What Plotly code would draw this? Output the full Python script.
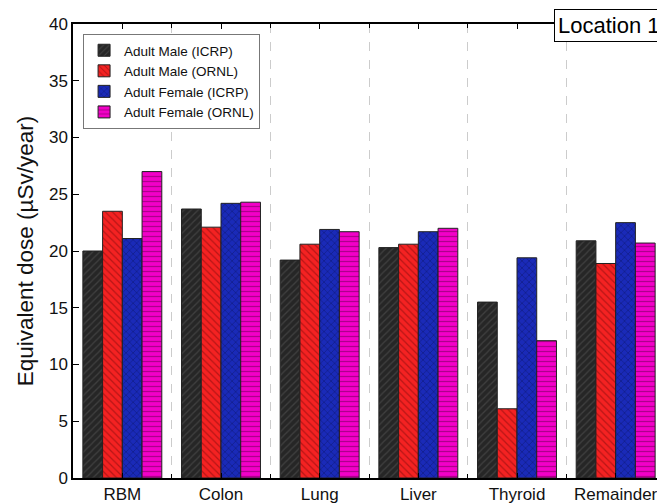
import plotly.graph_objects as go

categories = ["RBM", "Colon", "Lung", "Liver", "Thyroid", "Remainder"]
series_names = ["Adult Male (ICRP)", "Adult Male (ORNL)", "Adult Female (ICRP)", "Adult Female (ORNL)"]
male_icrp = [20.0, 23.7, 19.2, 20.3, 15.5, 20.9]
male_ornl = [23.5, 22.1, 20.6, 20.6, 6.1, 18.9]
female_icrp = [21.1, 24.2, 21.9, 21.7, 19.4, 22.5]
female_ornl = [27.0, 24.3, 21.7, 22.0, 12.1, 20.7]

series_values = [male_icrp, male_ornl, female_icrp, female_ornl]
fills = ["#262626", "#f42222", "#1a2ab8", "#f200c8"]
fgs = ["#5a5a5a", "#7a0a0a", "#070f50", "#6a0050"]
shapes = ["/", "\\", "x", "-"]

x_idx = list(range(len(categories)))

fig = go.Figure()
for name, vals, fc, fg, sh in zip(series_names, series_values, fills, fgs, shapes):
    fig.add_trace(go.Bar(
        x=x_idx, y=vals, name=name,
        marker=dict(color=fc, line=dict(color="#222222", width=1),
                    pattern=dict(shape=sh, fgcolor=fg, size=5, solidity=0.25)),
    ))

# the page body adds an 8px offset, so the figure is sized to fit the window
fig.update_layout(
    width=657, height=496,
    margin=dict(l=65, r=0, t=16, b=26),
    paper_bgcolor="white", plot_bgcolor="white",
    barmode="group", bargap=0.2, bargroupgap=0,
    font=dict(family="Arial, Liberation Sans, sans-serif", color="#111111"),
    showlegend=True,
    legend=dict(x=0.017, y=0.978, xanchor="left", yanchor="top",
                bgcolor="white", bordercolor="#777777", borderwidth=1,
                font=dict(size=13.5), tracegroupgap=0, itemwidth=30),
    xaxis=dict(range=[-0.5, 5.5], tickmode="array", tickvals=x_idx, ticktext=categories,
               showline=True, linecolor="black", linewidth=1.5, mirror="ticks",
               ticks="inside", ticklen=5, tickcolor="black", showgrid=False, zeroline=False,
               tickfont=dict(size=17), automargin=False,
               minor=dict(tickvals=[i + 0.5 for i in x_idx[:-1]], showgrid=True,
                          gridcolor="#cccccc", griddash="dash", gridwidth=1.2,
                          ticks="inside", ticklen=4, tickcolor="black")),
    yaxis=dict(range=[0, 40], dtick=5, showline=True, linecolor="black", linewidth=1.5,
               mirror="ticks", ticks="inside", ticklen=6, tickcolor="black",
               showgrid=False, zeroline=False, tickfont=dict(size=17), automargin=False,
               title=dict(text="Equivalent dose (µSv/year)", font=dict(size=22.5), standoff=9)),
    annotations=[dict(text="Location 1", xref="paper", yref="paper", x=0.998, y=0.9956,
                      xanchor="right", yanchor="middle", showarrow=False,
                      font=dict(size=22, color="black"), bgcolor="white",
                      bordercolor="black", borderwidth=1, borderpad=3)],
)

fig.write_html("out.html")
